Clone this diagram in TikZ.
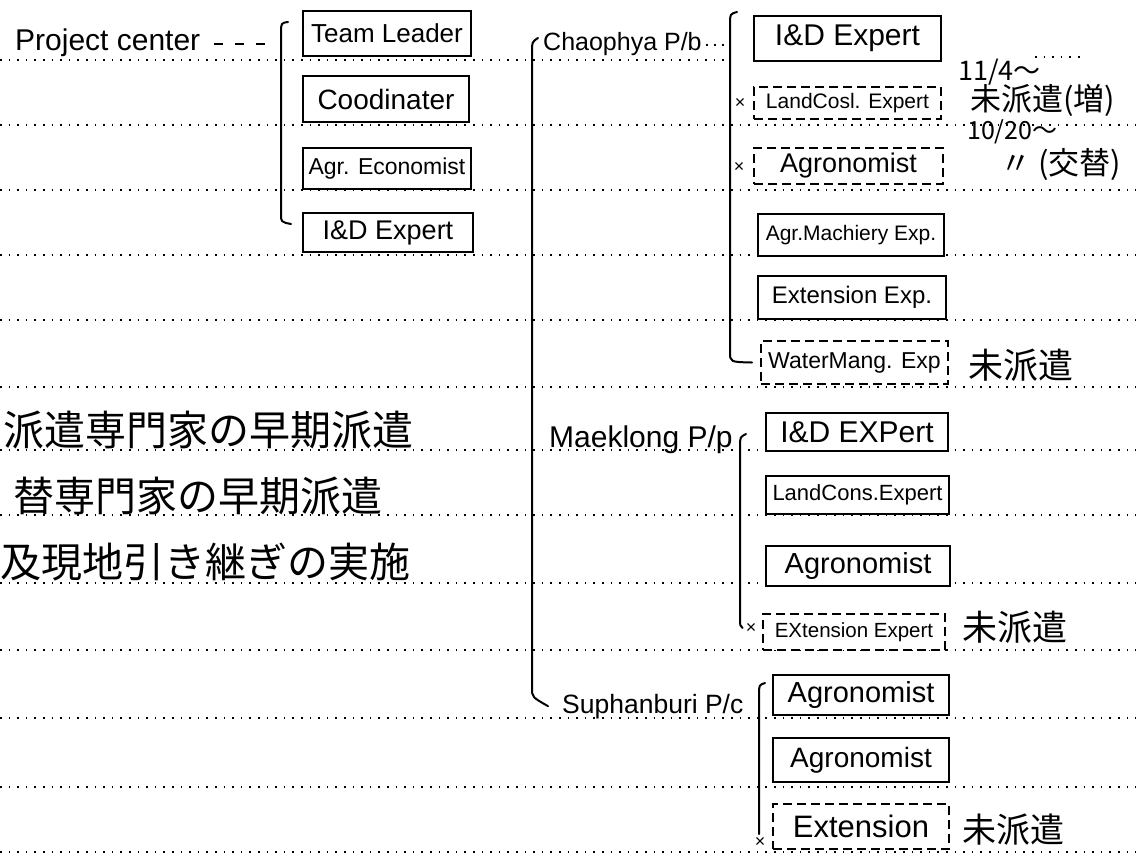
\documentclass[tikz,border=0pt]{standalone}
\usepackage{fontspec}
\setmainfont{Liberation Sans}
\newfontfamily\jp{Noto Sans CJK JP}
\begin{document}
\begin{tikzpicture}[x=1pt,y=-1pt,
  rule/.style={line width=1.6pt, dash pattern=on 1.6pt off 7pt},
  lead/.style={line width=1.6pt, dash pattern=on 2pt off 6pt},
  conn/.style={line width=2pt, line cap=round, line join=round},
  fsz/.style={font=\fontsize{#1}{#1}\selectfont},
  sbox/.style={draw, line width=2pt, fill=white, inner sep=0pt, anchor=north west},
  dbox/.style={sbox, dash pattern=on 9pt off 5pt},
  lbl/.style={inner sep=0pt, anchor=base west},
  note/.style={font=\jp\fontsize{31}{33}\selectfont, inner sep=0pt, anchor=west},
  jtxt/.style={font=\jp\fontsize{41}{43}\selectfont, inner sep=0pt, anchor=west},
  xm/.style={font=\fontsize{18}{18}\selectfont, inner sep=0pt},
]
\useasboundingbox (0,0) rectangle (1136,855);
\fill[white] (0,0) rectangle (1136,855);
% ruled lines
\draw[rule] (0,60) -- (730,60);
\draw[rule] (1035,57) -- (1082,57);
\foreach \y in {125,190,255,320,387,450,515,583,650,718,787,852}
  \draw[rule] (0,\y) -- (1136,\y);

% Project center group
\node[lbl, fsz=30] (pc) at (15,50) {Project center};
\node[sbox, fsz=26, minimum width=168pt, minimum height=45pt] (tl) at (302,10) {Team Leader};
\node[sbox, fsz=28, minimum width=166pt, minimum height=46pt] (co) at (302,75) {Coodinater};
\node[sbox, fsz=23, minimum width=168pt, minimum height=41pt] (ae) at (302,147) {Agr. Economist};
\node[sbox, fsz=27, minimum width=170pt, minimum height=39pt] (ide1) at (302,212) {I\&D Expert};
\coordinate (b1) at (275,44);
\coordinate (b1top) at (288,22);
\coordinate (b1bot) at (291,224);
\draw[line width=1.8pt, dash pattern=on 9pt off 12pt] ([xshift=14pt]pc.east |- b1) -- (b1);
\draw[conn] (b1top) .. controls (281,23) .. (281,33) -- (281,214) .. controls (281,222) .. (b1bot);

% Chaophya group
\node[lbl, fsz=25] (ch) at (543,50) {Chaophya P/b};
\coordinate (b2) at (728,45);
\draw[lead] ([xshift=4pt]ch.east |- b2) -- (b2);
\node[sbox, fsz=30, minimum width=187pt, minimum height=45pt] (c1) at (753,15) {I\&D Expert};
\node[dbox, fsz=21, minimum width=187pt, minimum height=32pt] (c2) at (753,86) {LandCosl. Expert};
\node[dbox, fsz=27, minimum width=189pt, minimum height=36pt] (c3) at (753,147) {Agronomist};
\node[sbox, fsz=21, minimum width=186pt, minimum height=42pt] (c4) at (757,213) {Agr.Machiery Exp.};
\node[sbox, fsz=24, minimum width=188pt, minimum height=43pt] (c5) at (757,275) {Extension Exp.};
\node[dbox, fsz=23, minimum width=187pt, minimum height=43pt] (c6) at (760,340) {WaterMang. Exp};
\node[xm] (x1) at (740,103) {×};
\node[xm] (x2) at (739,167) {×};
\coordinate (b3top) at (737,12);
\draw[conn] (b3top) .. controls (730,14) .. (730,24) -- (730,352) .. controls (730,362) .. ([xshift=-8pt]c6.west);
\node[note, font=\jp\fontsize{27}{29}\selectfont] (n1) at (958,72) {11/4～};
\node[note] (n2) at (970,100) {未派遣(増)};
\node[note, font=\jp\fontsize{25}{27}\selectfont] (n3) at (967,132) {10/20～};
\node[note] (n4) at (1000,164) {〃 (交替)};
\node[note, font=\jp\fontsize{35}{37}\selectfont] (n5) at (968,365) {未派遣};

% trunk
\node[lbl, fsz=30] (mk) at (549,447) {Maeklong P/p};
\node[lbl, fsz=26.5] (sp) at (562,713) {Suphanburi P/c};
\coordinate (trtop) at (538,38);
\draw[conn] (trtop) .. controls (532,42) .. (532,52) -- (532,688) .. controls (532,697) .. ([xshift=-14pt]sp.west);

% Maeklong group
\node[sbox, fsz=30, minimum width=182pt, minimum height=38pt] (m1) at (765,412) {I\&D EXPert};
\node[sbox, fsz=22, minimum width=183pt, minimum height=38pt] (m2) at (765,475) {LandCons.Expert};
\node[sbox, fsz=29, minimum width=184pt, minimum height=40pt] (m3) at (765,545) {Agronomist};
\node[dbox, fsz=20.5, minimum width=182pt, minimum height=36pt] (m4) at (762,613) {EXtension Expert};
\node[xm] (x3) at (751,628) {×};
\coordinate (b4top) at (746,434);
\draw[conn] (b4top) .. controls (740,437) .. (740,447) -- (740,617) .. controls (740,626) .. ([xshift=-3pt]x3.west);
\node[note, font=\jp\fontsize{35}{37}\selectfont] (n6) at (962,627) {未派遣};

% Suphanburi group
\node[sbox, fsz=29, minimum width=176pt, minimum height=40pt] (s1) at (772,674) {Agronomist};
\node[sbox, fsz=28, minimum width=176pt, minimum height=44pt] (s2) at (772,737) {Agronomist};
\node[dbox, fsz=31, minimum width=176pt, minimum height=45pt] (s3) at (772,803) {Extension};
\node[xm] (x4) at (760,842) {×};
\coordinate (b5top) at (765,683);
\coordinate (b5bot) at (759,834);
\draw[conn] (b5top) .. controls (759,685) .. (759,695) -- (b5bot);
\node[note, font=\jp\fontsize{34}{36}\selectfont] (n7) at (962,830) {未派遣};

% left Japanese notes
\node[jtxt] (j1) at (3,430) {派遣専門家の早期派遣};
\node[jtxt] (j2) at (13,496) {替専門家の早期派遣};
\node[jtxt] (j3) at (0,562) {及現地引き継ぎの実施};
\end{tikzpicture}
\end{document}
